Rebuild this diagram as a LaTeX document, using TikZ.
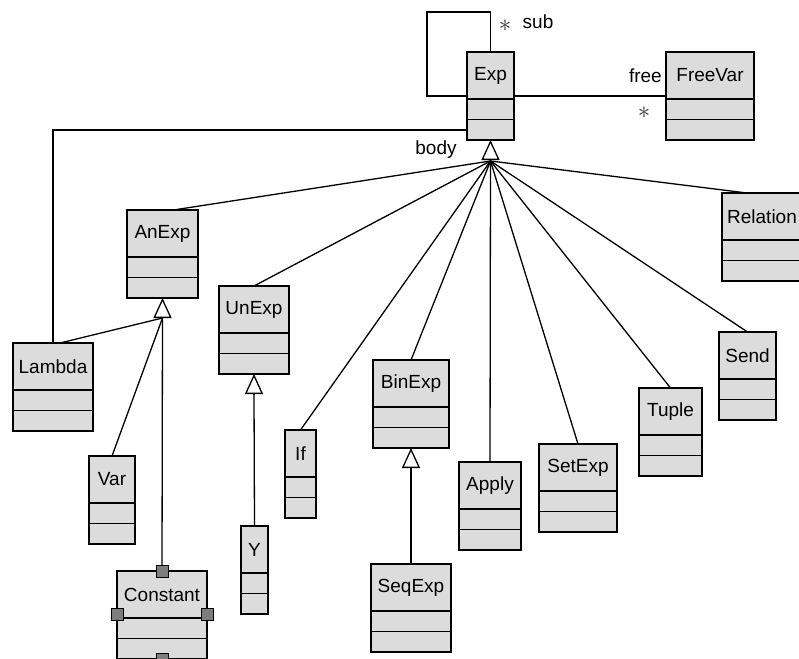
\documentclass[tikz,border=0pt]{standalone}
\usepackage{fontspec}
\setmainfont{Liberation Sans}
\usetikzlibrary{positioning,calc,arrows.meta}
\definecolor{umlgray}{RGB}{220,220,220}
\definecolor{handlegray}{RGB}{125,125,125}

\begin{document}
\begin{tikzpicture}[
x=1pt,
y=-1pt,
font=\fontsize{19}{22}\selectfont,
classname/.style={
rectangle,
draw=black,
line width=1.4pt,
fill=umlgray,
anchor=north,
inner sep=1pt,
outer sep=0pt,
minimum height=47pt
},
classbody/.style={
rectangle,
draw=black,
line width=1.4pt,
fill=umlgray,
inner sep=0pt,
outer sep=0pt,
minimum height=41pt,
path picture={\draw[line width=1.4pt] (path picture bounding box.west) -- (path picture bounding box.east);}
},
handle/.style={
rectangle,
draw=black,
line width=0.8pt,
fill=handlegray,
inner sep=0pt,
minimum size=12pt
},
tag/.style={
inner sep=0pt
},
star/.style={
inner sep=0pt,
text=black!80,
font=\fontsize{24}{24}\selectfont
},
link/.style={
line width=1.3pt,
draw=black
},
generalize/.style={
line width=1.3pt,
draw=black,
-{Triangle[open,length=20pt,width=18pt,line width=1.3pt]}
}
]

\useasboundingbox (0,0) rectangle (799,658);

% top
\node[classname, minimum width=47pt] (exp) at (490.5,52) {Exp};
\node[classbody, minimum width=47pt, below=0pt of exp] (exp-ops) {};

\node[classname, minimum width=88pt] (freevar) at (710,52) {FreeVar};
\node[classbody, minimum width=88pt, below=0pt of freevar] (freevar-ops) {};

% subclasses of Exp
\node[classname, minimum width=71pt] (anexp) at (162.5,210) {AnExp};
\node[classbody, minimum width=71pt, below=0pt of anexp] (anexp-ops) {};

\node[classname, minimum width=70pt] (unexp) at (254,286) {UnExp};
\node[classbody, minimum width=70pt, below=0pt of unexp] (unexp-ops) {};

\node[classname, minimum width=31pt] (ifexp) at (300.5,430) {If};
\node[classbody, minimum width=31pt, below=0pt of ifexp] (ifexp-ops) {};

\node[classname, minimum width=76pt] (binexp) at (411,360) {BinExp};
\node[classbody, minimum width=76pt, below=0pt of binexp] (binexp-ops) {};

\node[classname, minimum width=62pt] (apply) at (490,462) {Apply};
\node[classbody, minimum width=62pt, below=0pt of apply] (apply-ops) {};

\node[classname, minimum width=78pt] (setexp) at (578,444) {SetExp};
\node[classbody, minimum width=78pt, below=0pt of setexp] (setexp-ops) {};

\node[classname, minimum width=63pt] (tuple) at (670.5,388) {Tuple};
\node[classbody, minimum width=63pt, below=0pt of tuple] (tuple-ops) {};

\node[classname, minimum width=57pt] (send) at (747.5,332) {Send};
\node[classbody, minimum width=57pt, below=0pt of send] (send-ops) {};

\node[classname, minimum width=80pt] (relation) at (762,193) {Relation};
\node[classbody, minimum width=80pt, below=0pt of relation] (relation-ops) {};

% lower level
\node[classname, minimum width=80pt] (lambda) at (53,343) {Lambda};
\node[classbody, minimum width=80pt, below=0pt of lambda] (lambda-ops) {};

\node[classname, minimum width=46pt] (var) at (112,456) {Var};
\node[classbody, minimum width=46pt, below=0pt of var] (var-ops) {};

\node[classname, minimum width=90pt] (constant) at (162,571) {Constant};
\node[classbody, minimum width=90pt, below=0pt of constant] (constant-ops) {};

\node[classname, minimum width=27pt] (yexp) at (254.5,526) {Y};
\node[classbody, minimum width=27pt, below=0pt of yexp] (yexp-ops) {};

\node[classname, minimum width=80pt] (seqexp) at (411,564) {SeqExp};
\node[classbody, minimum width=80pt, below=0pt of seqexp] (seqexp-ops) {};

% generalization points
\coordinate (exphub) at ($(exp-ops.south)+(0,21)$);
\coordinate (anexphub) at ($(anexp-ops.south)+(0,20)$);
\coordinate (unexphub) at ($(unexp-ops.south)+(0,20)$);
\coordinate (binexphub) at ($(binexp-ops.south)+(0,20)$);

\draw[link] ($(anexp.north)+(11,0)$) -- (exphub);
\draw[link] (unexp.north) -- (exphub);
\draw[link] (ifexp.north) -- (exphub);
\draw[link] (binexp.north) -- (exphub);
\draw[link] (apply.north) -- (exphub);
\draw[link] (setexp.north) -- (exphub);
\draw[link] (tuple.north) -- (exphub);
\draw[link] (send.north) -- (exphub);
\draw[link] ($(relation.north)+(-15,0)$) -- (exphub);

\draw[link] ($(lambda.north)+(7,0)$) -- (anexphub);
\draw[link] (var.north) -- (anexphub);
\draw[link] (constant.north) -- (anexphub);
\draw[link] (yexp.north) -- (unexphub);
\draw[link] (seqexp.north) -- (binexphub);

\draw[generalize] (exphub) -- (exp-ops.south);
\draw[generalize] (anexphub) -- (anexp-ops.south);
\draw[generalize] (unexphub) -- (unexp-ops.south);
\draw[generalize] (binexphub) -- (binexp-ops.south);

% associations
\draw[link] (exp.north) -- ++(0,-40) -| ($(exp.south west)+(-40,-3)$) -- ($(exp.south west)+(0,-3)$);
\draw[link] ($(exp.south east)+(0,-3)$) -- ($(freevar.south west)+(0,-3)$);
\draw[link] (lambda.north) |- ($(exp-ops.south west)+(0,-10)$);

\node[star] (substar) at (505,26) {$\ast$};
\node[tag] (sublabel) at (538,22) {sub};
\node[tag, anchor=east] (freelabel) at ($(freevar.west)+(-4,0)$) {free};
\node[star] (freestar) at (644,113) {$\ast$};
\node[tag] (bodylabel) at (436,150) {body};

% selection handles
\node[handle] (handle-n) at (constant.north) {};
\node[handle] (handle-w) at ($(constant.south west)+(0,-4)$) {};
\node[handle] (handle-e) at ($(constant.south east)+(0,-4)$) {};
\node[handle] (handle-s) at (constant-ops.south) {};

\end{tikzpicture}
\end{document}
